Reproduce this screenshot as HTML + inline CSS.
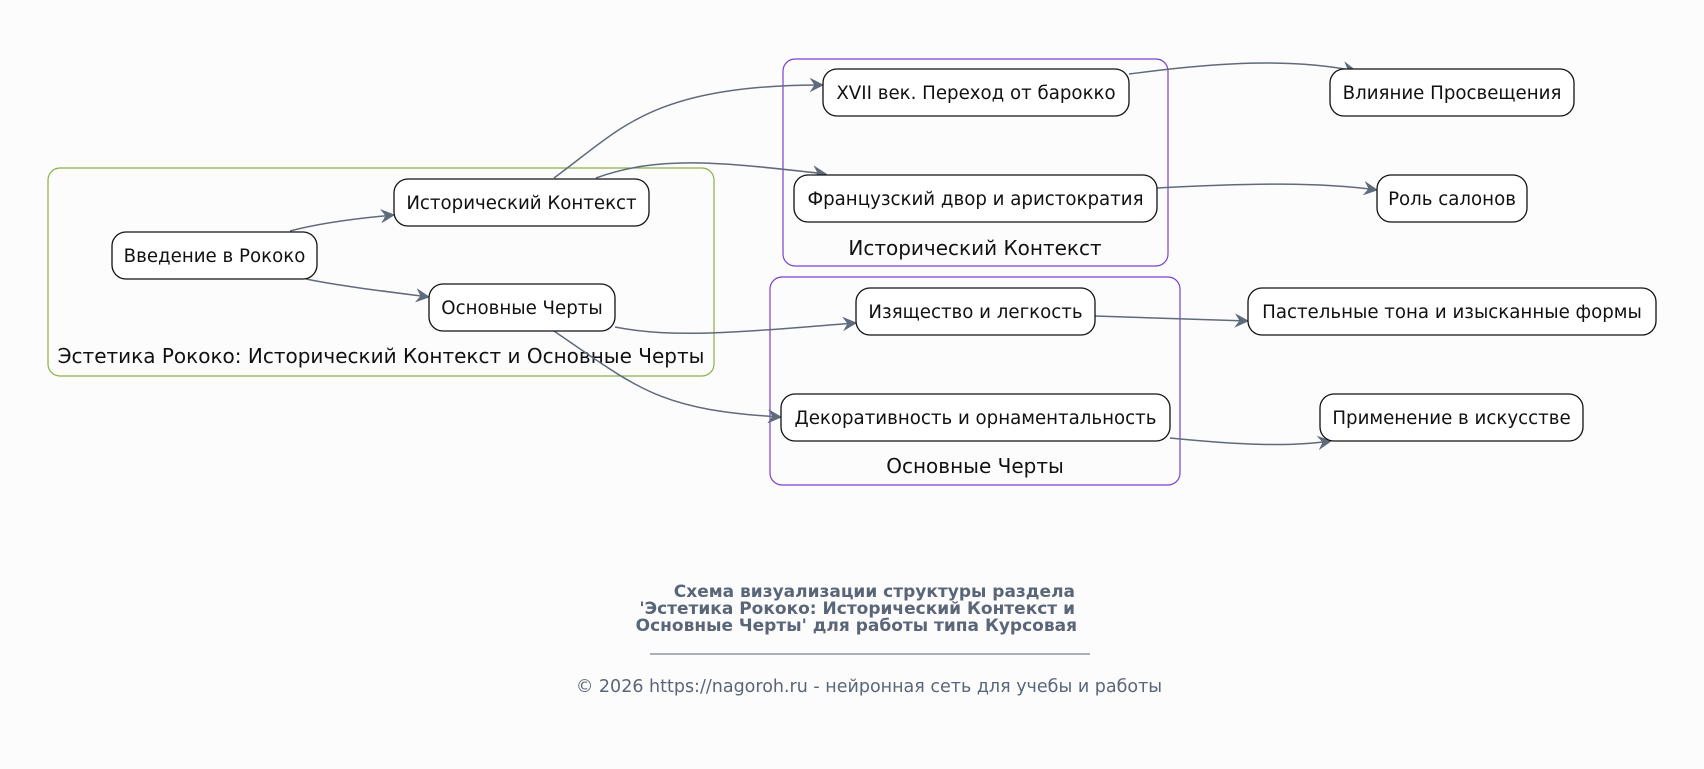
<!DOCTYPE html>
<html><head><meta charset="utf-8"><style>
html,body{margin:0;padding:0;background:#fcfcfc;}
svg{display:block;font-family:"DejaVu Sans","Liberation Sans",sans-serif;}
</style></head><body>
<svg width="1704" height="769" viewBox="0 0 1704 769" xmlns="http://www.w3.org/2000/svg">
<defs>
<marker id="a" viewBox="0 0 14 14" refX="13" refY="7" markerWidth="14" markerHeight="14" markerUnits="userSpaceOnUse" orient="auto">
<path d="M1,1 L13,7 L1,13 L5,7 Z" fill="#5f6b7a" stroke="#5f6b7a" stroke-width="1"/>
</marker>
</defs>
<rect width="1704" height="769" fill="#fcfcfc"/>
<rect x="48" y="168" width="666" height="208" rx="12" fill="none" stroke="#8ab04a" stroke-width="1.2"/>
<rect x="783" y="59" width="385" height="207" rx="12" fill="none" stroke="#7b3fd0" stroke-width="1.2"/>
<rect x="770" y="277" width="410" height="208" rx="12" fill="none" stroke="#7b3fd0" stroke-width="1.2"/>
<g font-size="20" fill="#111" text-anchor="middle">
<text x="381" y="363">Эстетика Рококо: Исторический Контекст и Основные Черты</text>
<text x="975" y="255">Исторический Контекст</text>
<text x="975" y="473">Основные Черты</text>
</g>
<g fill="none" stroke="#5f6b7a" stroke-width="1.5" marker-end="url(#a)">
<path d="M290,231 C320,223 360,218 394,215"/>
<path d="M306,279 C340,286 390,292 429,297"/>
<path d="M554,178 C620,130 650,85 823,85"/>
<path d="M596,178 C660,155 720,162 826,174"/>
<path d="M615,327 C680,340 760,330 856,323"/>
<path d="M554,331 C640,390 660,410 781,417"/>
<path d="M1129,74 C1220,62 1290,58 1356,71"/>
<path d="M1157,188 C1250,183 1320,182 1377,190"/>
<path d="M1095,316 C1150,318 1200,319 1248,321"/>
<path d="M1170,438 C1240,445 1290,447 1331,441"/>
</g>
<g fill="#fff" stroke="#111" stroke-width="1.3">
<rect x="112" y="232" width="205" height="47" rx="14"/>
<rect x="394" y="179" width="255" height="47" rx="14"/>
<rect x="429" y="284" width="186" height="47" rx="14"/>
<rect x="823" y="69" width="306" height="47" rx="14"/>
<rect x="794" y="175" width="363" height="47" rx="14"/>
<rect x="856" y="288" width="239" height="47" rx="14"/>
<rect x="781" y="394" width="389" height="47" rx="14"/>
<rect x="1330" y="69" width="244" height="47" rx="14"/>
<rect x="1377" y="175" width="150" height="47" rx="14"/>
<rect x="1248" y="288" width="408" height="47" rx="14"/>
<rect x="1320" y="394" width="263" height="47" rx="14"/>
</g>
<g font-size="18.2" fill="#111" text-anchor="middle">
<text x="214.5" y="262">Введение в Рококо</text>
<text x="521.5" y="209">Исторический Контекст</text>
<text x="522" y="314">Основные Черты</text>
<text x="976" y="99">XVII век. Переход от барокко</text>
<text x="975.5" y="205">Французский двор и аристократия</text>
<text x="975.5" y="318">Изящество и легкость</text>
<text x="975.5" y="424">Декоративность и орнаментальность</text>
<text x="1452" y="99">Влияние Просвещения</text>
<text x="1452" y="205">Роль салонов</text>
<text x="1452" y="318">Пастельные тона и изысканные формы</text>
<text x="1451.5" y="424">Применение в искусстве</text>
</g>
<g font-size="17" font-weight="bold" fill="#5a6678" text-anchor="end">
<text x="1075" y="597">Схема визуализации структуры раздела</text>
<text x="1075" y="614">'Эстетика Рококо: Исторический Контекст и</text>
<text x="1077" y="631">Основные Черты' для работы типа Курсовая</text>
</g>
<line x1="650" y1="654" x2="1090" y2="654" stroke="#5a6678" stroke-width="1"/>
<text x="869" y="692" font-size="17.5" fill="#5a6678" text-anchor="middle">© 2026 https://nagoroh.ru - нейронная сеть для учебы и работы</text>
</svg>
</body></html>
